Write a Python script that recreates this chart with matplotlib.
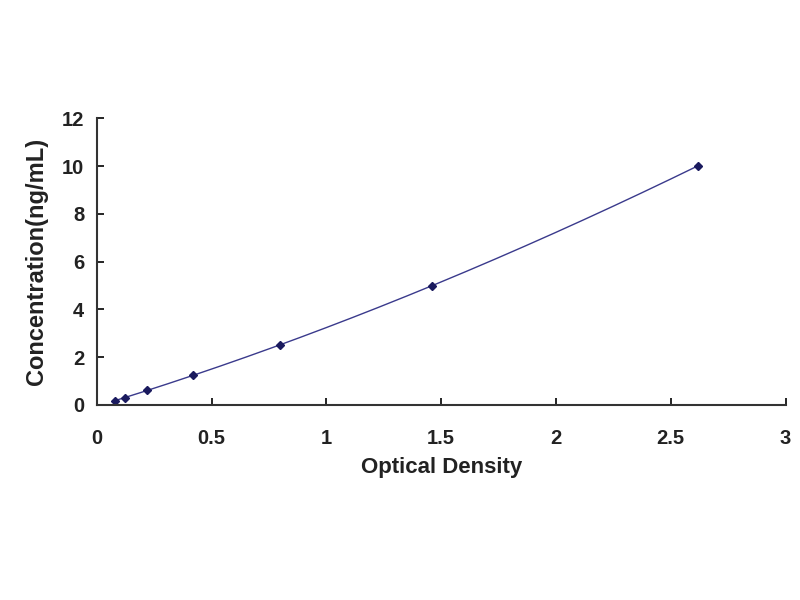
import numpy as np
import matplotlib
matplotlib.use("Agg")
import matplotlib.pyplot as plt

# standard curve data
od = [0.078, 0.122, 0.217, 0.418, 0.80, 1.46, 2.617]
conc = [0.156, 0.312, 0.625, 1.25, 2.5, 5.0, 10.0]

x_ticks = [0, 0.5, 1, 1.5, 2, 2.5, 3]
x_labels = ["0", "0.5", "1", "1.5", "2", "2.5", "3"]
y_ticks = [0, 2, 4, 6, 8, 10, 12]

plt.rcParams["font.family"] = ["Liberation Sans", "DejaVu Sans"]

fig = plt.figure(figsize=(8, 6), dpi=100)
ax = fig.add_axes([0.121, 0.325, 0.861, 0.478])

# fitted curve through the points
coef = np.polyfit(od, conc, 3)
xs = np.linspace(min(od), max(od), 200)
ax.plot(xs, np.polyval(coef, xs), color="#3a3a8c", lw=1.0)
ax.plot(od, conc, linestyle="none", marker="D", markersize=4,
        color="#1a1a5e")

ax.set_xlim(0, 3)
ax.set_ylim(0, 12)
ax.set_xticks(x_ticks)
ax.set_xticklabels(x_labels)
ax.set_yticks(y_ticks)
ax.tick_params(direction="in", length=5, width=1.2, labelsize=14.5)
ax.tick_params(axis="x", pad=17)
ax.tick_params(axis="y", pad=9)
for lab in ax.get_xticklabels() + ax.get_yticklabels():
    lab.set_fontweight("bold")
    lab.set_color("#222222")

ax.spines["top"].set_visible(False)
ax.spines["right"].set_visible(False)
ax.spines["left"].set_linewidth(1.5)
ax.spines["bottom"].set_linewidth(1.5)
ax.spines["left"].set_color("#333333")
ax.spines["bottom"].set_color("#333333")

ax.set_xlabel("Optical Density", fontsize=16, fontweight="bold",
              color="#222222", labelpad=7)
ax.set_ylabel("Concentration(ng/mL)", fontsize=17, fontweight="bold",
              color="#222222", labelpad=10)

fig.savefig("out.png", dpi=100)
